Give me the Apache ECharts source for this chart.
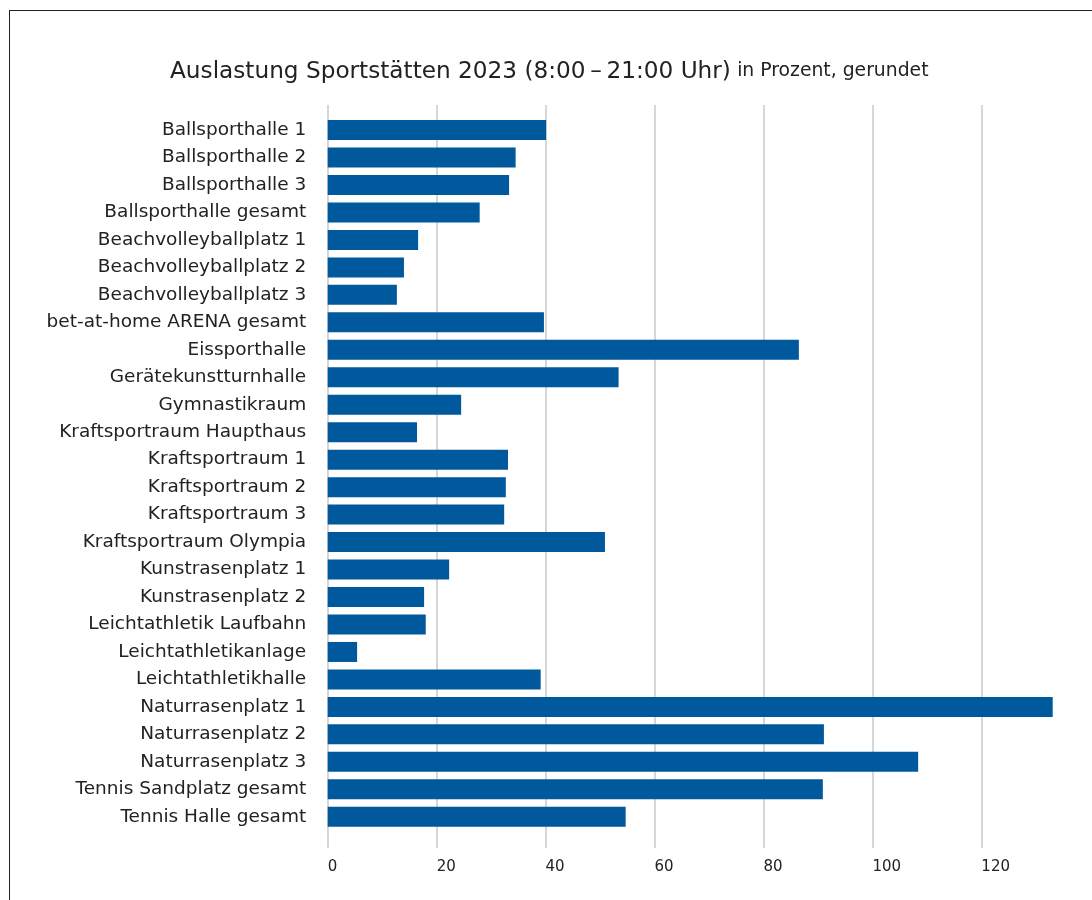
<!DOCTYPE html>
<html>
<head>
<meta charset="utf-8">
<script src="https://cdn.jsdelivr.net/npm/echarts@6/dist/echarts.min.js"></script>
<style>
  html, body { margin: 0; padding: 0; background: #fff; overflow: hidden; }
  #chart { position: absolute; left: 0; top: 0; width: 1092px; height: 900px; }
  #frame { position: absolute; left: 9px; top: 10px; width: 3000px; height: 3000px; border: 1px solid #222; pointer-events: none; }
</style>
</head>
<body>
<div id="chart"></div>
<div id="frame"></div>
<script>
const titleMain = 'Auslastung Sportstätten 2023 (8:00\u202F\u2013\u202F21:00 Uhr)';
const titleSub = 'in Prozent, gerundet';

const categories = [
  'Ballsporthalle 1',
  'Ballsporthalle 2',
  'Ballsporthalle 3',
  'Ballsporthalle gesamt',
  'Beachvolleyballplatz 1',
  'Beachvolleyballplatz 2',
  'Beachvolleyballplatz 3',
  'bet-at-home ARENA gesamt',
  'Eissporthalle',
  'Gerätekunstturnhalle',
  'Gymnastikraum',
  'Kraftsportraum Haupthaus',
  'Kraftsportraum 1',
  'Kraftsportraum 2',
  'Kraftsportraum 3',
  'Kraftsportraum Olympia',
  'Kunstrasenplatz 1',
  'Kunstrasenplatz 2',
  'Leichtathletik Laufbahn',
  'Leichtathletikanlage',
  'Leichtathletikhalle',
  'Naturrasenplatz 1',
  'Naturrasenplatz 2',
  'Naturrasenplatz 3',
  'Tennis Sandplatz gesamt',
  'Tennis Halle gesamt'
];

const auslastung = [
  40.1, 34.5, 33.3, 27.9, 16.6, 14.0, 12.7, 39.7, 86.5, 53.4,
  24.5, 16.4, 33.1, 32.7, 32.4, 50.9, 22.3, 17.7, 18.0, 5.4,
  39.1, 133.1, 91.1, 108.4, 90.9, 54.7
];

const tickInterval = 20;

const FONT = 'DejaVu Sans';
const axisMax = Math.max.apply(null, auslastung);

const chart = echarts.init(document.getElementById('chart'), null, { renderer: 'canvas' });
chart.setOption({
  animation: false,
  backgroundColor: '#ffffff',
  textStyle: { fontFamily: FONT },
  title: {
    text: '{a|' + titleMain + '} {b|' + titleSub + '}',
    left: 170,
    top: 60,
    padding: 0,
    textStyle: {
      rich: {
        a: { fontFamily: FONT, fontSize: 23.2, color: '#222222', fontWeight: 'normal' },
        b: { fontFamily: FONT, fontSize: 18.8, color: '#222222', fontWeight: 'normal' }
      }
    }
  },
  grid: [
    { left: 327.7, right: 39.3, top: 116.3, bottom: 69.5 },
    { left: 327.7, right: 39.3, top: 105, bottom: 52 }
  ],
  xAxis: [
    {
      gridIndex: 0, type: 'value', min: 0, max: axisMax,
      axisLine: { show: false }, axisTick: { show: false },
      axisLabel: { show: false }, splitLine: { show: false }
    },
    {
      gridIndex: 1, type: 'value', min: 0, max: axisMax, interval: tickInterval,
      axisLine: { show: false }, axisTick: { show: false },
      axisLabel: {
        show: true, showMaxLabel: false, margin: 12, align: 'left',
        fontFamily: FONT, fontSize: 15, color: '#222222'
      },
      splitLine: { show: true, showMaxLine: false, lineStyle: { color: '#c8c8c8', width: 1.5 } }
    }
  ],
  yAxis: [
    {
      gridIndex: 0, type: 'category', data: categories, inverse: true,
      axisLine: { show: false }, axisTick: { show: false },
      axisLabel: { margin: 21.5, padding: [5, 0, 0, 0], fontFamily: FONT, fontSize: 18.5, color: '#222222' }
    },
    { gridIndex: 1, type: 'value', show: false }
  ],
  series: [
    {
      type: 'bar',
      xAxisIndex: 0, yAxisIndex: 0,
      data: auslastung,
      barWidth: 20,
      itemStyle: { color: '#00599c' }
    }
  ]
});
</script>
</body>
</html>
